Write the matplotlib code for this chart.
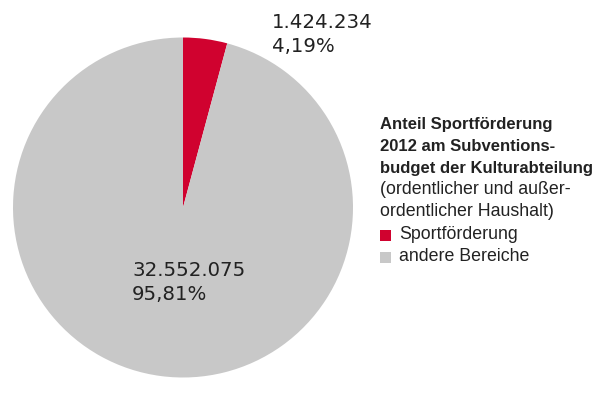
import matplotlib
matplotlib.use('Agg')
import matplotlib.pyplot as plt
from matplotlib.patches import Rectangle

labels = ['Sportförderung', 'andere Bereiche']
values = [1424234, 32552075]
colors = ['#D0022F', '#C8C8C8']
title_lines = ['Anteil Sportförderung', '2012 am Subventions-', 'budget der Kulturabteilung']
sub_lines = ['(ordentlicher und außer-', 'ordentlicher Haushalt)']

W, H = 602, 412
INK = '#222222'
plt.rcParams['font.family'] = ['Liberation Sans', 'DejaVu Sans']

def fx(x): return x / W
def fy(y): return 1 - y / H

def de_num(v): return f'{v:,}'.replace(',', '.')
def de_pct(p): return f'{p:.2f}%'.replace('.', ',')

fig = plt.figure(figsize=(W/100, H/100), dpi=100, facecolor='white')
ax = fig.add_axes([fx(13), fy(378), 340/W, 341/H])
ax.pie(values, colors=colors, startangle=90, counterclock=False,
       wedgeprops=dict(linewidth=0))
ax.set_aspect('equal'); ax.axis('off')
ax.set_xlim(-1, 1); ax.set_ylim(-1, 1)

total = sum(values)
pcts = [v / total * 100 for v in values]
nfont = dict(fontsize=14.2, color=INK, va='center', family='DejaVu Sans')
# slice labels
fig.text(fx(272), fy(23), de_num(values[0]), **nfont)
fig.text(fx(272), fy(46), de_pct(pcts[0]), **nfont)
fig.text(fx(132), fy(271), de_num(values[1]), **nfont)
fig.text(fx(132), fy(295), de_pct(pcts[1]), **nfont)

# legend block
y = 125
for t in title_lines:
    fig.text(fx(380), fy(y), t, fontsize=12, fontweight='bold', color=INK, va='center')
    y += 21.5
for t in sub_lines:
    fig.text(fx(380), fy(y), t, fontsize=12.8, color=INK, va='center')
    y += 21.5
y += 2
for lab, c in zip(labels, colors):
    fig.patches.append(Rectangle((fx(380), fy(y + 6)), 11/W, 11/H, transform=fig.transFigure,
                                 facecolor=c, edgecolor='none'))
    fig.text(fx(399), fy(y), lab, fontsize=12.8, color=INK, va='center')
    y += 22

fig.savefig('out.png', dpi=100, facecolor='white')
